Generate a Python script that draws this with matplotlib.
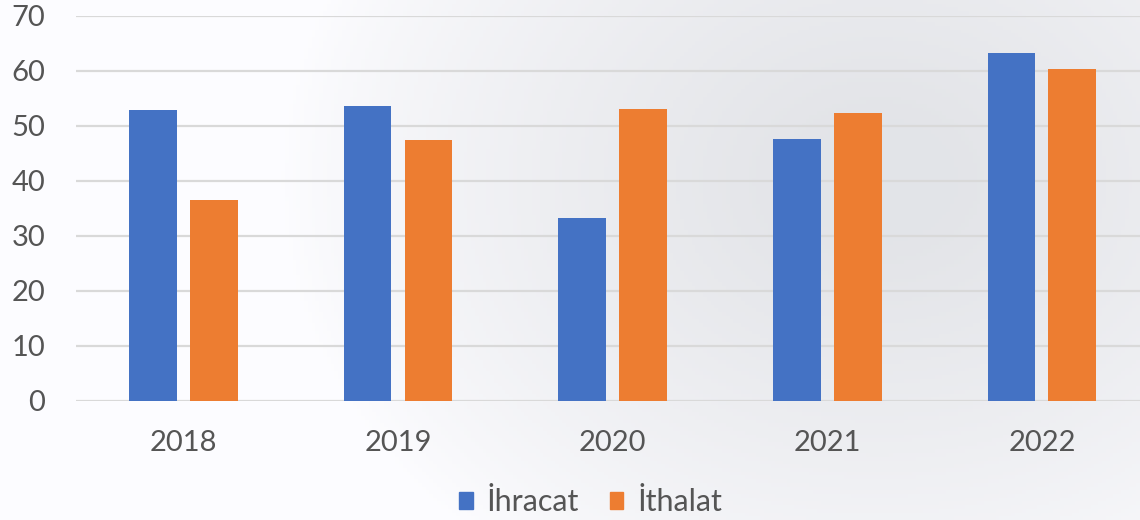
import matplotlib.pyplot as plt
from matplotlib.patches import Patch
import numpy as np

plt.rcParams['font.family'] = ['Lato', 'DejaVu Sans']

years = ['2018', '2019', '2020', '2021', '2022']
ihracat = [52.9, 53.6, 33.3, 47.6, 63.2]
ithalat = [36.5, 47.4, 53.0, 52.4, 60.4]
series_names = ['İhracat', 'İthalat']

blue = '#4472C4'
orange = '#ED7D31'
text_color = '#555555'
grid_color = '#D9D9D9'

fig = plt.figure(figsize=(11.4, 5.2), dpi=100)

# faint grey backdrop on the right, like the picture behind the chart
bg = fig.add_axes([0, 0, 1, 1], zorder=-5)
gx, gy = np.meshgrid(np.linspace(0, 1140, 300), np.linspace(0, 520, 140))
dist = np.sqrt(((gx - 880) / 520) ** 2 + ((gy - 180) / 420) ** 2)
shade = np.clip(1.15 - dist, 0, 1) ** 0.8
base = np.array([0.99, 0.99, 1.0])
grey = np.array([0.89, 0.895, 0.91])
img = base[None, None, :] * (1 - shade[..., None]) + grey[None, None, :] * shade[..., None]
bg.imshow(img, extent=[0, 1140, 520, 0], aspect='auto')
bg.axis('off')

ax = fig.add_axes([0.0667, 0.2294, 0.9414, 0.7404])
ax.patch.set_alpha(0)

x = np.arange(len(years))
w = 0.223
ax.bar(x - 0.142, ihracat, w, color=blue, zorder=3)
ax.bar(x + 0.142, ithalat, w, color=orange, zorder=3)

ax.set_xlim(-0.5, len(years) - 0.5)
ax.set_ylim(0, 70)
ax.set_yticks(range(0, 71, 10))
ax.set_xticks(x)
ax.set_xticklabels(years)
ax.yaxis.grid(True, color=grid_color, linewidth=1.6, zorder=0)
ax.set_axisbelow(True)
for s in ax.spines.values():
    s.set_visible(False)
ax.tick_params(axis='y', length=0, pad=22, labelsize=21, labelcolor=text_color)
ax.tick_params(axis='x', length=0, pad=21, labelsize=21, labelcolor=text_color)

handles = [Patch(color=blue, label=series_names[0]),
           Patch(color=orange, label=series_names[1])]
fig.legend(handles=handles, loc='center', bbox_to_anchor=(0.518, 0.034), ncol=2,
           frameon=False, fontsize=22, labelcolor=text_color,
           handlelength=0.45, handleheight=0.45, handletextpad=0.45,
           columnspacing=1.0, borderpad=0)

fig.savefig('out.png', dpi=100)
